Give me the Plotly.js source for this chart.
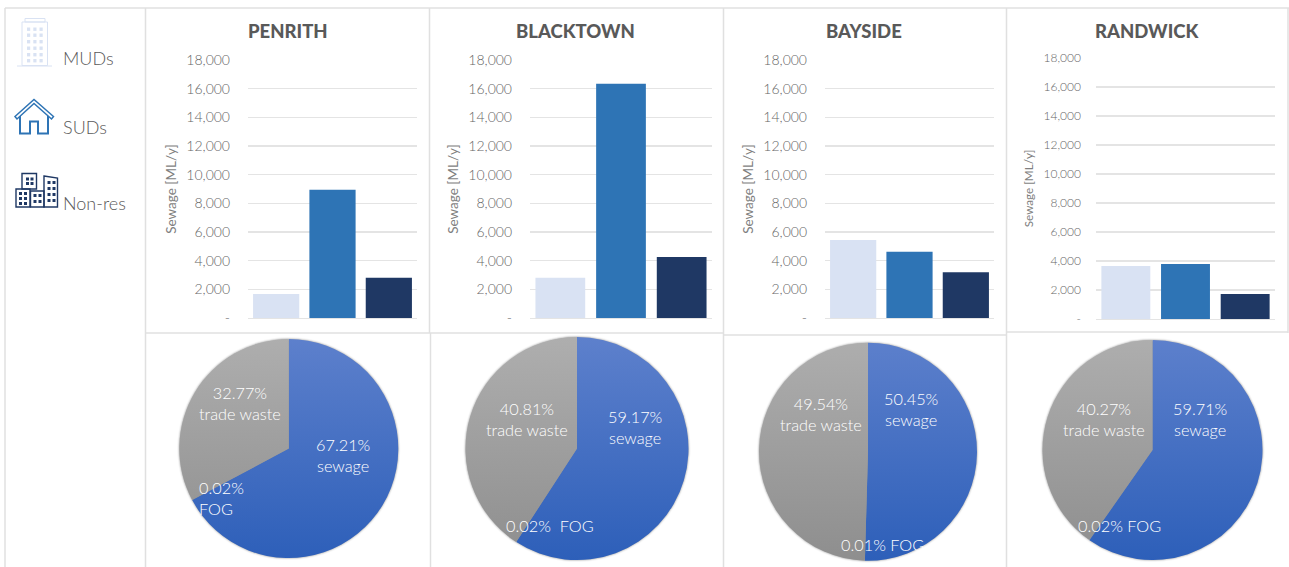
<!DOCTYPE html>
<html>
<head>
<meta charset="utf-8">
<script src="https://cdn.plot.ly/plotly-3.0.1.min.js"></script>
<style>
html,body{margin:0;padding:0;background:#fff;overflow:hidden}
#chart{width:1289px;height:567px}
svg text{font-variant-numeric:oldstyle-nums}
.pielayer .trace{filter:drop-shadow(0 0 1px rgba(0,0,0,.45))}
</style>
</head>
<body>
<div id="chart"></div>
<script>
// ---------- data ----------
const councils = ['PENRITH','BLACKTOWN','BAYSIDE','RANDWICK'];
const dwellingTypes = ['MUDs','SUDs','Non-res'];
const penrithSewage = [1680, 8950, 2800];
const blacktownSewage = [2800, 16350, 4250];
const baysideSewage = [5450, 4620, 3200];
const randwickSewage = [3650, 3800, 1720];
const wasteTypes = ['sewage','FOG','trade waste'];
const penrithShare = [67.21, 0.02, 32.77];
const blacktownShare = [59.17, 0.02, 40.81];
const baysideShare = [50.45, 0.01, 49.54];
const randwickShare = [59.71, 0.02, 40.27];
const tickValues = [0,2000,4000,6000,8000,10000,12000,14000,16000,18000];
const tickLabels = ['-','2,000','4,000','6,000','8,000','10,000','12,000','14,000','16,000','18,000'];
const barColors = ['#d9e2f3','#2e74b5','#1f3864'];

// ---------- layout geometry ----------
const W = 1289, H = 567;
const X = x => x / W, Y = y => 1 - y / H;
const FONT = 'Lato, "Open Sans", sans-serif';
const GREY = '#595959';
const barSeries = [penrithSewage, blacktownSewage, baysideSewage, randwickSewage];
const pieSeries = [penrithShare, blacktownShare, baysideShare, randwickShare];
const panels = [
  {x0:248, x1:417, y0:60, y1:318, tick:14, axisTitle:13.5, standoff:6, labelGap:17, titleX:287.5},
  {x0:530, x1:712, y0:60, y1:318, tick:14, axisTitle:13.5, standoff:6, labelGap:17, titleX:575.5},
  {x0:825, x1:994, y0:60, y1:318, tick:14, axisTitle:13.5, standoff:6, labelGap:17, titleX:864.5},
  {x0:1096,x1:1275,y0:58, y1:319, tick:12, axisTitle:11.7, standoff:7, labelGap:14, titleX:1147}
];
const pies = [
  {cx:288.8, cy:448.6, r:109.5},
  {cx:577, cy:448.6, r:111.5},
  {cx:868, cy:451.7, r:109},
  {cx:1152.5, cy:450, r:110}
];
const pieLabels = [
  [{i:2,x:240.5,y:403},{i:0,x:342.5,y:455},{i:1,x:196.5,y:497.5,left:true,br:true}],
  [{i:2,x:527,y:419},{i:0,x:635,y:427},{i:1,x:549.5,y:525.5,sp:'&nbsp; '}],
  [{i:2,x:821,y:413.5},{i:0,x:911,y:409},{i:1,x:882,y:544.5,sp:' '}],
  [{i:2,x:1104,y:419},{i:0,x:1200,y:418.5},{i:1,x:1119,y:525.5,sp:' '}]
];

const data = [], annotations = [], shapes = [];
const layout = {
  width:W, height:H, margin:{l:0,r:0,t:0,b:0}, showlegend:false,
  paper_bgcolor:'#fff', plot_bgcolor:'rgba(0,0,0,0)', font:{family:FONT,color:GREY},
  bargap:0.18, annotations, shapes, hovermode:false
};

councils.forEach((name,i)=>{
  const p = panels[i], n = i===0 ? '' : String(i+1);
  data.push({type:'bar', x:dwellingTypes, y:barSeries[i], xaxis:'x'+n, yaxis:'y'+n,
             marker:{color:barColors,line:{width:0}}, showlegend:false});
  layout['xaxis'+n] = {domain:[X(p.x0),X(p.x1)], anchor:'y'+n, showticklabels:false,
    ticks:'', showgrid:false, zeroline:false, showline:true, linecolor:'#e4e4e4', linewidth:1.4,
    type:'category', range:[-0.5,2.5]};
  layout['yaxis'+n] = {domain:[Y(p.y1),Y(p.y0)], anchor:'x'+n, range:[0,18000],
    tickmode:'array', tickvals:tickValues, ticktext:tickLabels, ticks:'',
    ticklabelstandoff:p.labelGap, tickfont:{size:p.tick,color:'#666666',family:FONT,weight:300},
    gridcolor:'#e4e4e4', gridwidth:1.3, zeroline:false, showline:false,
    title:{text:'Sewage [ML/y]', font:{size:p.axisTitle,color:'#7f7f7f',family:FONT}, standoff:p.standoff}};
  annotations.push({xref:'paper',yref:'paper',x:X(p.titleX),y:Y(31),text:name,showarrow:false,
    xanchor:'center',yanchor:'middle',font:{size:18.5,color:GREY,family:FONT,weight:900}});

  const q = pies[i];
  data.push({type:'pie', labels:wasteTypes, values:pieSeries[i], sort:false, direction:'clockwise',
    rotation:0, textinfo:'none', hoverinfo:'none',
    marker:{colors:['#3f6cc4','#3f6cc4','#9e9e9e'],line:{width:0}},
    domain:{x:[X(q.cx-q.r),X(q.cx+q.r)], y:[Y(q.cy+q.r),Y(q.cy-q.r)]}});
  pieLabels[i].forEach(l=>{
    const pct = pieSeries[i][l.i].toFixed(2)+'%';
    const joiner = l.sp!==undefined ? l.sp : '<br>';
    const text = l.br ? pct+'<br>'+wasteTypes[l.i] : pct+joiner+wasteTypes[l.i];
    annotations.push({xref:'paper',yref:'paper',x:X(l.x),y:Y(l.y),text,showarrow:false,
      xanchor:l.left?'left':'center',yanchor:'middle',align:l.left?'left':'center',
      font:{size:16.3,color:'#ffffff',family:FONT,weight:300}});
  });
});

// ---------- legend text ----------
[58,127,203].forEach((y,k)=>{
  annotations.push({xref:'paper',yref:'paper',x:X(60.5),y:Y(y),text:dwellingTypes[k],showarrow:false,
    xanchor:'left',yanchor:'middle',font:{size:18,color:GREY,family:FONT,weight:300}});
});

// ---------- drawing helpers ----------
const line = (x0,y0,x1,y1,color='#e0e0e0',width=1.5)=>shapes.push({type:'line',xref:'paper',yref:'paper',
  x0:X(x0),y0:Y(y0),x1:X(x1),y1:Y(y1),line:{color,width},layer:'below'});
const rect = (x0,y0,x1,y1,fill,color,width=0)=>shapes.push({type:'rect',xref:'paper',yref:'paper',
  x0:X(x0),y0:Y(y0),x1:X(x1),y1:Y(y1),fillcolor:fill,line:{color:color||fill,width},layer:'above'});
const path = (pts,color,width,fill,closed)=>shapes.push({type:'path',xref:'paper',yref:'paper',
  path:pts.map((p,i)=>(i?'L':'M')+X(p[0])+','+Y(p[1])).join(' ')+(closed?' Z':''),
  line:{color,width},fillcolor:fill||'rgba(0,0,0,0)',layer:'above'});

// ---------- cell borders ----------
line(5,8,1289,8);
line(5,8,5,567);
line(145.5,8,145.5,567);
line(429.5,8,429.5,333);
line(430.5,333,430.5,567);
line(723.5,8,723.5,567);
line(1006.5,8,1006.5,567);
line(1288,8,1288,333);
line(145,333,723,333);
line(724,335,1006,335);
line(1007,332,1288,332);

// ---------- MUDs icon ----------
const pale = barColors[0];
rect(22,22,47.5,65.5,'rgba(0,0,0,0)',pale,1);
rect(25,18.5,45,22,'rgba(0,0,0,0)',pale,1);
line(17,66,52,66,pale,1);
[27,33.3,39.5].forEach(x=>[27.5,33.5,40,46.5,53,59].forEach(y=>rect(x,y,x+3.2,y+3.4,pale)));

// ---------- SUDs icon ----------
const mid = barColors[1];
path([[15,116.5],[34,99.5],[53.5,116.5],[51.5,119],[34,103.5],[17,119]],mid,1.5,null,true);
path([[20,116],[20,133.5],[30,133.5],[30,121.5],[38,121.5],[38,133.5],[48,133.5],[48,116]],mid,2);

// ---------- Non-res icon ----------
const dark = barColors[2];
rect(16,189,30,207,'rgba(0,0,0,0)',dark,1.4);
rect(22,173.5,36.5,189,'rgba(0,0,0,0)',dark,1.4);
rect(30.5,191,44,207,'rgba(0,0,0,0)',dark,1.4);
path([[44,176],[57.5,178],[57.5,207],[44,207]],dark,1.4,null,true);
[[26,177.5],[30.5,177.5],[26,182],[30.5,182]].forEach(([x,y])=>rect(x,y,x+3,y+3,dark));
[19,24].forEach(x=>[192,197,202].forEach(y=>rect(x,y,x+3,y+3,dark)));
[33.5,38.5].forEach(x=>[194,200].forEach(y=>rect(x,y,x+3,y+3,dark)));
[47.5,52.5].forEach(x=>[181,187,193,199].forEach(y=>rect(x,y,x+3,y+3,dark)));

Plotly.newPlot('chart',data,layout,{displayModeBar:false,staticPlot:true}).then(gd=>{
  // vertical shading on the pie slices, top to bottom across each pie
  const svg = gd.querySelector('.main-svg');
  const NS = 'http://www.w3.org/2000/svg';
  const defs = svg.querySelector('defs') || svg.insertBefore(document.createElementNS(NS,'defs'),svg.firstChild);
  const mk = (id,y1,y2,a,b)=>{
    const g = document.createElementNS(NS,'linearGradient');
    g.setAttribute('id',id); g.setAttribute('gradientUnits','userSpaceOnUse');
    g.setAttribute('x1',0); g.setAttribute('x2',0);
    g.setAttribute('y1',y1); g.setAttribute('y2',y2);
    [[0,a],[1,b]].forEach(([o,c])=>{
      const s = document.createElementNS(NS,'stop');
      s.setAttribute('offset',o); s.setAttribute('stop-color',c); g.appendChild(s);
    });
    defs.appendChild(g);
  };
  mk('blueShade',338,561,'#5d80cc','#2d5fb9');
  mk('greyShade',338,561,'#aeaeae','#8e8e8e');
  gd.querySelectorAll('.pielayer .slice').forEach((sl,k)=>{
    const s = sl.querySelector('path.surface');
    s.style.fill = (k%3===2) ? 'url(#greyShade)' : 'url(#blueShade)';
  });
});
</script>
</body>
</html>
